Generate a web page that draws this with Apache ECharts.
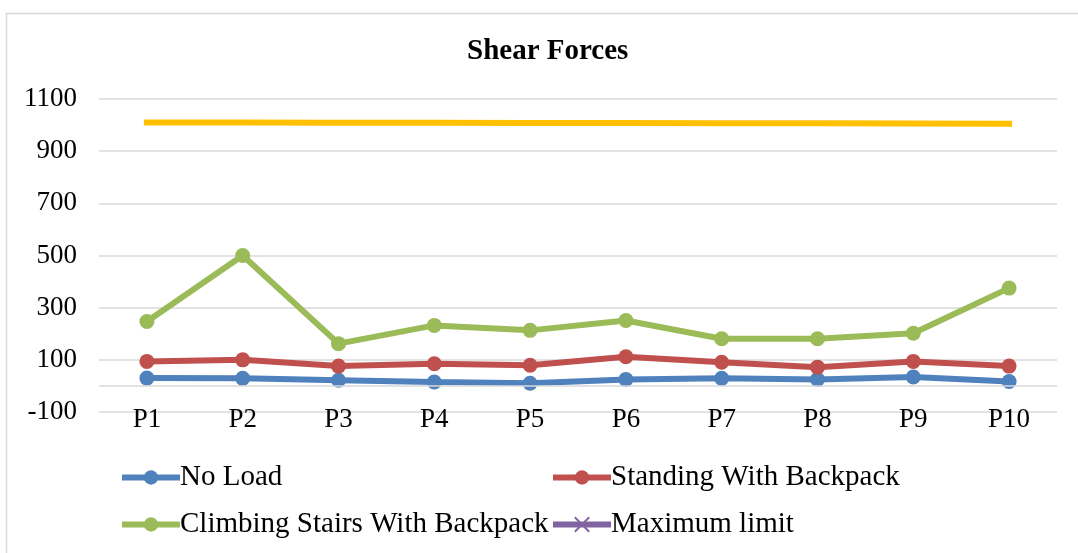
<!DOCTYPE html>
<html>
<head>
<meta charset="UTF-8">
<script src="https://cdn.jsdelivr.net/npm/echarts@6/dist/echarts.min.js"></script>
<style>
html, body { margin: 0; padding: 0; background: #fff; }
#main { width: 1078px; height: 553px; }
</style>
</head>
<body>
<div id="main"></div>
<script>
var categories = ['P1', 'P2', 'P3', 'P4', 'P5', 'P6', 'P7', 'P8', 'P9', 'P10'];
var noLoad = [30, 29, 22, 15, 10, 25, 29, 25, 34, 17];
var standing = [94, 100, 76, 85, 79, 112, 91, 72, 94, 76];
var climbing = [247, 500, 162, 232, 213, 251, 181, 181, 202, 375];
var maxLimit = [1010, 1010, 1009, 1009, 1008, 1008, 1007, 1007, 1006, 1005];

var fontFamily = '"Liberation Serif", "DejaVu Serif", serif';

function lineSeries(name, data, color) {
    return {
        name: name,
        type: 'line',
        data: data,
        symbol: 'circle',
        symbolSize: 15,
        color: color,
        lineStyle: { width: 6, color: color },
        itemStyle: { color: color },
        z: 3
    };
}

var legendBase = {
    orient: 'vertical',
    top: 458,
    itemWidth: 58, itemHeight: 18, itemGap: 18,
    lineStyle: { width: 6 },
    textStyle: { fontFamily: fontFamily, fontSize: 29, color: '#000', padding: [0, 0, 0, -5] }
};

var chart = echarts.init(document.getElementById('main'));
chart.setOption({
    animation: false,
    backgroundColor: '#fff',
    graphic: [{
        type: 'rect',
        left: 4, top: 11,
        shape: { width: 1090, height: 560 },
        style: { fill: 'none', stroke: '#d9d9d9', lineWidth: 1.5 },
        silent: true
    }],
    title: {
        text: 'Shear Forces',
        left: 462,
        top: 32,
        textStyle: { fontFamily: fontFamily, fontSize: 29, fontWeight: 'bold', color: '#000' }
    },
    legend: [
        Object.assign({ left: 114, data: ['No Load', 'Climbing Stairs With Backpack'] }, legendBase),
        Object.assign({ left: 545, data: ['Standing With Backpack', 'Maximum limit'] }, legendBase)
    ],
    grid: { left: 99, right: 21, top: 99, bottom: 141 },
    xAxis: {
        type: 'category',
        data: categories,
        boundaryGap: true,
        axisLine: { show: false, onZero: false },
        axisTick: { show: false },
        axisLabel: { fontFamily: fontFamily, fontSize: 27, color: '#000', margin: -6 }
    },
    yAxis: {
        type: 'value',
        min: -100, max: 1100, interval: 200,
        axisLine: { show: false },
        axisTick: { show: false },
        splitLine: { lineStyle: { color: '#d9d9d9', width: 1.5 } },
        axisLabel: {
            fontFamily: fontFamily, fontSize: 27, color: '#000', margin: 22,
            formatter: function (v) { return String(v); }
        }
    },
    series: [
        Object.assign(lineSeries('No Load', noLoad, '#4F81BD'), {
            markLine: {
                silent: true,
                symbol: 'none',
                label: { show: false },
                lineStyle: { color: '#d9d9d9', width: 1.5, type: 'solid' },
                data: [{ yAxis: 0 }]
            }
        }),
        lineSeries('Standing With Backpack', standing, '#C0504D'),
        lineSeries('Climbing Stairs With Backpack', climbing, '#9BBB59'),
        {
            name: 'Maximum limit',
            type: 'line',
            data: [],
            color: '#8064A2',
            symbol: 'path://M0,0 L10,10 M10,0 L0,10',
            symbolSize: 15,
            lineStyle: { width: 6, color: '#8064A2' },
            itemStyle: { color: '#8064A2', borderColor: '#8064A2', borderWidth: 2 }
        },
        {
            name: 'Limit line',
            type: 'line',
            data: maxLimit,
            showSymbol: false,
            symbol: 'none',
            lineStyle: { width: 6, color: '#FFC000', cap: 'square' },
            itemStyle: { color: '#FFC000' },
            z: 2
        }
    ]
});
</script>
</body>
</html>
